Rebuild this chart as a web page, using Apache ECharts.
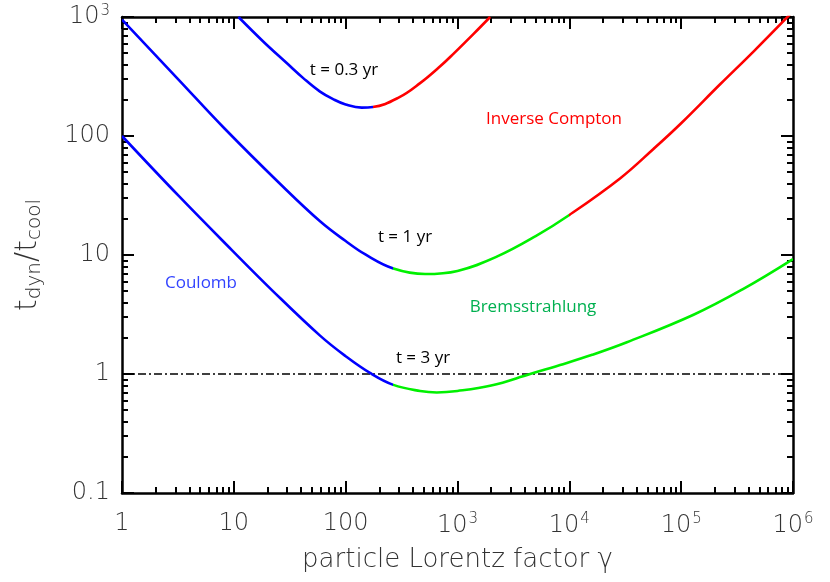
<!DOCTYPE html>
<html style="height: 100%">
<head>
<title>Cooling time ratio vs Lorentz factor</title>
<script type="text/javascript" src="https://cdn.jsdelivr.net/npm/echarts@6/dist/echarts.min.js"></script>
</head>
<body style="height: 100%; margin: 0; background: #fff">
<div id="target" style="width: 830px; height: 582px"></div>
<script>
// axis decades
let xDecades = [1, 10, 100, 1e3, 1e4, 1e5, 1e6];
let yDecades = [0.1, 1, 10, 100, 1e3];

// curves, [gamma, t_dyn/t_cool]
let t03Curve = [[11, 1000], [18.4, 620], [29.7, 410], [42, 305], [59, 236], [78, 203], [100, 184], [139, 173],
    [175, 175], [300, 211], [463, 278], [700, 385], [919, 490], [1400, 725], [1958, 1000]];
let t1Curve = [[1, 950], [3.2, 298], [8.3, 115], [26, 39.5], [59, 19.2], [100, 13.1], [150, 10.1], [267, 7.7],
    [513, 6.92], [1000, 7.35], [2245, 9.68], [5000, 14.4], [10000, 21.7], [28400, 44], [56500, 77.8],
    [1e5, 128], [2.23e5, 272], [4.5e5, 520], [1e6, 1117]];
let t3Curve = [[1, 100], [3.2, 31.5], [9.6, 11], [22, 5.05], [59, 2.1], [100, 1.41], [165, 1.02], [267, 0.81],
    [463, 0.72], [653, 0.70], [1000, 0.72], [2000, 0.80], [4460, 1.0], [8270, 1.19], [16000, 1.45],
    [32700, 1.85], [1.29e5, 3.15], [3.6e5, 5.2], [1e6, 9.25]];

// gamma where each curve changes from Coulomb to Bremsstrahlung / Inverse Compton
let t03Breaks = [175];
let t1Breaks = [267, 10000];
let t3Breaks = [267];

let unityLine = [[1, 1], [1e6, 1]];

// minor ticks 2..9 inside each decade
let MinorTicks = (decades) => {
    let out = [];
    for (let i = 0; i < decades.length - 1; ++i)
    {
        for (let k = 2; k <= 9; ++k)
        {
            out.push(+(decades[i] * k).toPrecision(3));
        }
    }
    return out;
};

let chart = echarts.init(document.getElementById('target'), null, {renderer: 'canvas'});

let labelFont = "'DejaVu Sans', sans-serif";
let noteFont = "'Open Sans', sans-serif";

let blue = '#0000ff';
let green = '#00f000';
let red = '#ff0000';

let PowLabel = (v) => {
    let e = Math.round(Math.log10(v));
    if (e >= 3) return '10{sup|' + e + '}';
    if (e < 0) return v.toFixed(-e);
    return String(Math.round(v));
};

let labelRich = {
    sup: {fontSize: 15, fontFamily: labelFont, fontWeight: 200, color: '#333', verticalAlign: 'top', padding: [0, 0, 12, 1]},
};

let AxisSet = (pos, decades, isMinor, withLabels) => {
    let ax = {
        type: 'log',
        logBase: 10,
        min: decades[0],
        max: decades[decades.length - 1],
        interval: 1,
        position: pos,
        splitLine: {show: false},
        axisLine: {show: !isMinor, onZero: false, lineStyle: {color: '#000', width: 2.5}},
        axisTick: {
            show: true,
            inside: true,
            length: isMinor ? 6 : 12,
            lineStyle: {color: '#000', width: 2},
        },
        axisLabel: {show: false},
    };
    if (isMinor)
    {
        ax.axisTick.customValues = MinorTicks(decades);
    }
    if (withLabels)
    {
        ax.axisLabel = {
            show: true,
            showMinLabel: true,
            showMaxLabel: true,
            margin: pos == 'bottom' ? 19 : 12,
            fontSize: 24,
            fontFamily: labelFont,
            fontWeight: 200,
            color: '#333',
            formatter: PowLabel,
            rich: labelRich,
        };
    }
    return ax;
};

let xMain = AxisSet('bottom', xDecades, false, true);
xMain.name = 'particle Lorentz factor γ';
xMain.nameLocation = 'middle';
xMain.nameGap = 54;
xMain.nameTextStyle = {fontSize: 26, fontFamily: labelFont, fontWeight: 200, color: '#333'};

let yMain = AxisSet('left', yDecades, false, true);
yMain.name = 't{sub|dyn}/t{sub|cool}';
yMain.nameLocation = 'middle';
yMain.nameGap = 77;
yMain.nameTextStyle = {
    fontSize: 30, fontFamily: labelFont, fontWeight: 200, color: '#333',
    rich: {sub: {fontSize: 20, fontFamily: labelFont, fontWeight: 200, color: '#333', verticalAlign: 'bottom', padding: [13, 0, 0, 0]}},
};

let Curve = (data) => ({
    type: 'line',
    data: data,
    smooth: 0.4,
    symbol: 'none',
    clip: true,
    lineStyle: {width: 2.6},
    z: 3,
});

// colour each curve by gamma range (finite bounds so the log axis can place the stops)
let Segments = (seriesIndex, breaks, colors) => {
    let edges = [xDecades[0]].concat(breaks, [xDecades[xDecades.length - 1]]);
    let pieces = [];
    for (let i = 0; i < colors.length; ++i)
    {
        let p = {color: colors[i], lte: edges[i + 1]};
        if (i == 0) p.gte = edges[i];
        else p.gt = edges[i];
        pieces.push(p);
    }
    return {type: 'piecewise', show: false, dimension: 0, seriesIndex: seriesIndex, pieces: pieces};
};

let Note = (x, y, text, color) => ({
    type: 'text',
    x: x,
    y: y,
    style: {
        text: text,
        fill: color,
        font: "17px " + noteFont,
        align: 'center',
        verticalAlign: 'middle',
    },
});

let option = {
    animation: false,
    backgroundColor: '#fff',
    grid: {left: 122, right: 37, top: 17, bottom: 89, containLabel: false},
    xAxis: [
        xMain,
        AxisSet('bottom', xDecades, true, false),
        AxisSet('top', xDecades, false, false),
        AxisSet('top', xDecades, true, false),
    ],
    yAxis: [
        yMain,
        AxisSet('left', yDecades, true, false),
        AxisSet('right', yDecades, false, false),
        AxisSet('right', yDecades, true, false),
    ],
    visualMap: [
        Segments(1, t03Breaks, [blue, red]),
        Segments(2, t1Breaks, [blue, green, red]),
        Segments(3, t3Breaks, [blue, green]),
    ],
    series: [
        {
            type: 'line',
            data: unityLine,
            symbol: 'none',
            lineStyle: {color: '#000', width: 1.4, type: [8, 3, 2, 3]},
            z: 2,
        },
        Curve(t03Curve),
        Curve(t1Curve),
        Curve(t3Curve),
    ],
    graphic: [
        Note(344, 70, 't = 0.3 yr', '#000'),
        Note(554, 119, 'Inverse Compton', '#ff0000'),
        Note(405, 237, 't = 1 yr', '#000'),
        Note(201, 283, 'Coulomb', '#3344ff'),
        Note(533, 307, 'Bremsstrahlung', '#00b050'),
        Note(423, 358, 't = 3 yr', '#000'),
    ],
};

chart.setOption(option);
</script>
</body>
</html>
